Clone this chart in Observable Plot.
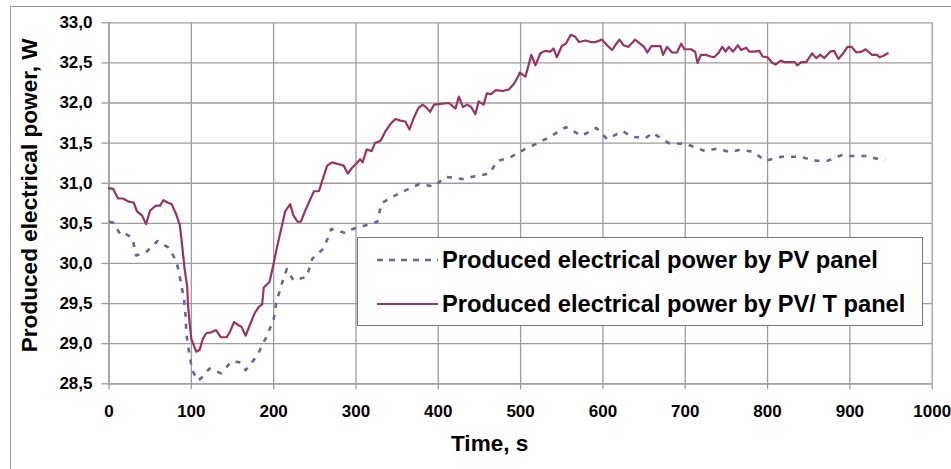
<!DOCTYPE html>
<html>
<head>
<meta charset="utf-8">
<script src="https://cdn.jsdelivr.net/npm/d3@7"></script>
<script src="https://cdn.jsdelivr.net/npm/@observablehq/plot@0.6"></script>
<style>
  html, body { margin: 0; padding: 0; background: #fff; }
  #wrap { position: relative; width: 951px; height: 469px; overflow: hidden; font-family: "Liberation Sans", Arial, sans-serif; }
  #outer { position: absolute; left: 10px; top: 6px; width: 960px; height: 480px; border-left: 1.5px solid #9a9a9a; border-top: 1.5px solid #9a9a9a; }
  #chart svg { overflow: visible; }
  #legend { position: absolute; left: 357px; top: 237px; width: 566px; height: 89px; background: #fff; border: 1.3px solid #7272a8; box-sizing: border-box; }
  #legend .row { position: absolute; left: 18px; height: 30px; display: flex; align-items: center; font-weight: bold; font-size: 23.7px; color: #000; white-space: nowrap; }
  #legend svg { margin-right: 4px; }
</style>
</head>
<body>
<div id="wrap">
  <div id="outer"></div>
  <div id="chart"></div>
  <div id="legend"></div>
</div>
<script>
// ---- data ----
const seriesNames = ["Produced electrical power by PV panel", "Produced electrical power by PV/ T panel"];
const seriesColors = ["#666699", "#993366"];

const xTicks = [0, 100, 200, 300, 400, 500, 600, 700, 800, 900, 1000];
const yTicks = [28.5, 29.0, 29.5, 30.0, 30.5, 31.0, 31.5, 32.0, 32.5, 33.0];

// PV/T panel (solid)
const tPVT = [
  0, 5, 11, 17, 24, 30, 34, 40, 45, 50,
  57, 62, 66, 71, 76, 81, 86, 89, 92, 95,
  96, 98, 100, 106, 110, 114, 118, 124, 130, 136,
  143, 147, 152, 157, 161, 166, 171, 177, 182, 186,
  188, 195, 200, 204, 208, 211, 214, 220, 224, 229,
  233, 238, 244, 249, 255, 259, 265, 271, 278, 285,
  290, 295, 301, 305, 308, 313, 319, 323, 330, 336,
  342, 348, 354, 360, 365, 370, 376, 381, 385, 390,
  395, 403, 413, 421, 425, 430, 435, 440, 445, 449,
  455, 459, 464, 470, 478, 486, 492, 497, 499, 506,
  513, 518, 524, 530, 536, 540, 544, 550, 555, 561,
  566, 571, 579, 585, 591, 599, 605, 611, 615, 620,
  625, 631, 639, 645, 650, 654, 659, 664, 670, 673,
  678, 684, 690, 695, 699, 707, 712, 715, 719, 725,
  731, 735, 740, 745, 749, 753, 758, 764, 768, 774,
  778, 784, 790, 794, 800, 806, 810, 816, 820, 827,
  833, 836, 841, 847, 854, 859, 864, 869, 876, 881,
  886, 892, 897, 902, 908, 914, 919, 927, 933, 936,
  941, 946
];
const vPVT = [
  30.94, 30.93, 30.81, 30.81, 30.77, 30.76, 30.65, 30.60, 30.49, 30.66,
  30.72, 30.72, 30.79, 30.76, 30.74, 30.63, 30.48, 30.21, 29.92, 29.71,
  29.48, 29.25, 29.06, 28.90, 28.92, 29.06, 29.13, 29.14, 29.17, 29.08,
  29.08, 29.15, 29.27, 29.23, 29.21, 29.10, 29.23, 29.38, 29.46, 29.49,
  29.70, 29.77, 30.00, 30.20, 30.38, 30.51, 30.65, 30.74, 30.60, 30.52,
  30.52, 30.65, 30.79, 30.90, 30.90, 31.03, 31.22, 31.26, 31.24, 31.22,
  31.12, 31.19, 31.25, 31.30, 31.26, 31.42, 31.40, 31.50, 31.53, 31.65,
  31.74, 31.80, 31.78, 31.77, 31.67, 31.81, 31.94, 31.98, 31.95, 31.89,
  31.98, 31.99, 32.00, 31.93, 32.08, 31.95, 31.98, 31.95, 31.86, 32.02,
  31.98, 32.12, 32.11, 32.16, 32.15, 32.17, 32.24, 32.33, 32.38, 32.33,
  32.60, 32.47, 32.62, 32.65, 32.64, 32.68, 32.57, 32.71, 32.74, 32.85,
  32.83, 32.76, 32.78, 32.76, 32.76, 32.79, 32.72, 32.66, 32.72, 32.79,
  32.72, 32.70, 32.79, 32.74, 32.70, 32.63, 32.71, 32.71, 32.71, 32.60,
  32.70, 32.63, 32.63, 32.74, 32.67, 32.67, 32.64, 32.50, 32.60, 32.60,
  32.58, 32.57, 32.62, 32.70, 32.64, 32.70, 32.64, 32.72, 32.66, 32.69,
  32.64, 32.64, 32.65, 32.58, 32.57, 32.50, 32.48, 32.53, 32.51, 32.51,
  32.51, 32.47, 32.51, 32.51, 32.62, 32.56, 32.60, 32.56, 32.64, 32.65,
  32.55, 32.62, 32.70, 32.70, 32.63, 32.64, 32.67, 32.60, 32.60, 32.57,
  32.59, 32.62
];

// PV panel (dashed)
const tPV = [
  0, 5, 14, 18, 27, 29, 33, 45, 59, 72,
  82, 87, 91, 93, 94, 97, 101, 108, 113, 122,
  136, 149, 158, 166, 180, 190, 200, 203, 209, 216,
  224, 240, 247, 261, 270, 287, 293, 313, 326, 331,
  346, 364, 377, 395, 409, 431, 441, 462, 472, 487,
  506, 521, 536, 555, 562, 574, 592, 605, 624, 635,
  652, 660, 680, 701, 714, 724, 738, 755, 767, 783,
  797, 817, 840, 859, 873, 890, 902, 919, 931, 943
];
const vPV = [
  30.52, 30.51, 30.36, 30.38, 30.33, 30.29, 30.10, 30.14, 30.28, 30.20,
  30.03, 29.78, 29.56, 29.35, 29.12, 28.91, 28.67, 28.54, 28.58, 28.69,
  28.63, 28.78, 28.77, 28.67, 28.85, 29.06, 29.30, 29.50, 29.72, 29.93,
  29.79, 29.83, 30.06, 30.19, 30.43, 30.38, 30.42, 30.48, 30.52, 30.75,
  30.84, 30.93, 30.99, 30.96, 31.08, 31.05, 31.08, 31.12, 31.28, 31.32,
  31.43, 31.50, 31.58, 31.70, 31.66, 31.59, 31.69, 31.55, 31.65, 31.58,
  31.56, 31.63, 31.50, 31.49, 31.44, 31.40, 31.43, 31.39, 31.42, 31.39,
  31.28, 31.33, 31.33, 31.28, 31.28, 31.35, 31.34, 31.34, 31.31, 31.29
];

// ---- build ----
const pvt = tPVT.map((t, i) => ({t, v: vPVT[i]}));
const pv = tPV.map((t, i) => ({t, v: vPV[i]}));
const dash = "5,7";
const grid = "#9c9c9c";

const chart = Plot.plot({
  width: 951,
  height: 469,
  marginLeft: 108.5,
  marginRight: 19.3,
  marginTop: 22.3,
  marginBottom: 85.7,
  style: {fontFamily: '"Liberation Sans", Arial, sans-serif', fontWeight: "bold", fontSize: "17px", color: "#000", background: "transparent", overflow: "visible"},
  x: {domain: [0, 1000]},
  y: {domain: [28.5, 33]},
  marks: [
    Plot.gridX(xTicks, {stroke: grid, strokeOpacity: 1, strokeWidth: 1.3}),
    Plot.gridY(yTicks, {stroke: grid, strokeOpacity: 1, strokeWidth: 1.3}),
    Plot.axisX(xTicks, {tickSize: 6, tickPadding: 15.5, stroke: grid, strokeWidth: 1.3, label: null, fill: "#000",
      tickFormat: d => String(d)}),
    Plot.axisY(yTicks, {tickSize: 7, tickPadding: 9.5, stroke: grid, strokeWidth: 1.3, label: null, fill: "#000",
      tickFormat: d => d.toFixed(1).replace(".", ",")}),
    Plot.ruleX([0], {stroke: grid, strokeWidth: 1.3}),
    Plot.ruleY([28.5], {stroke: grid, strokeWidth: 1.3}),
    Plot.line(pv, {x: "t", y: "v", stroke: seriesColors[0], strokeWidth: 2.6, strokeDasharray: dash, strokeLinecap: "butt"}),
    Plot.line(pvt, {x: "t", y: "v", stroke: seriesColors[1], strokeWidth: 2.2}),
    Plot.text(["Time, s"], {frameAnchor: "bottom", textAnchor: "middle", lineAnchor: "middle", dx: -31, dy: 60, fontSize: 22.5, fontWeight: "bold", fill: "#000"}),
    Plot.text(["Produced electrical power, W"], {frameAnchor: "left", textAnchor: "middle", lineAnchor: "middle", rotate: -90, dx: -79, dy: -8, fontSize: 22.6, fontWeight: "bold", fill: "#000"})
  ]
});
document.getElementById("chart").appendChild(chart);

// ---- legend ----
const legend = document.getElementById("legend");
seriesNames.forEach((name, i) => {
  const row = document.createElement("div");
  row.className = "row";
  row.style.top = (i === 0 ? 7 : 51) + "px";
  const sw = document.createElementNS("http://www.w3.org/2000/svg", "svg");
  sw.setAttribute("width", "62"); sw.setAttribute("height", "10");
  const ln = document.createElementNS("http://www.w3.org/2000/svg", "line");
  ln.setAttribute("x1", "1"); ln.setAttribute("x2", "62");
  ln.setAttribute("y1", "5"); ln.setAttribute("y2", "5");
  ln.setAttribute("stroke", seriesColors[i]);
  ln.setAttribute("stroke-width", i === 0 ? "2.6" : "2.2");
  if (i === 0) ln.setAttribute("stroke-dasharray", "6,6");
  sw.appendChild(ln);
  row.appendChild(sw);
  const tx = document.createElement("span");
  tx.textContent = name;
  row.appendChild(tx);
  legend.appendChild(row);
});
</script>
</body>
</html>
